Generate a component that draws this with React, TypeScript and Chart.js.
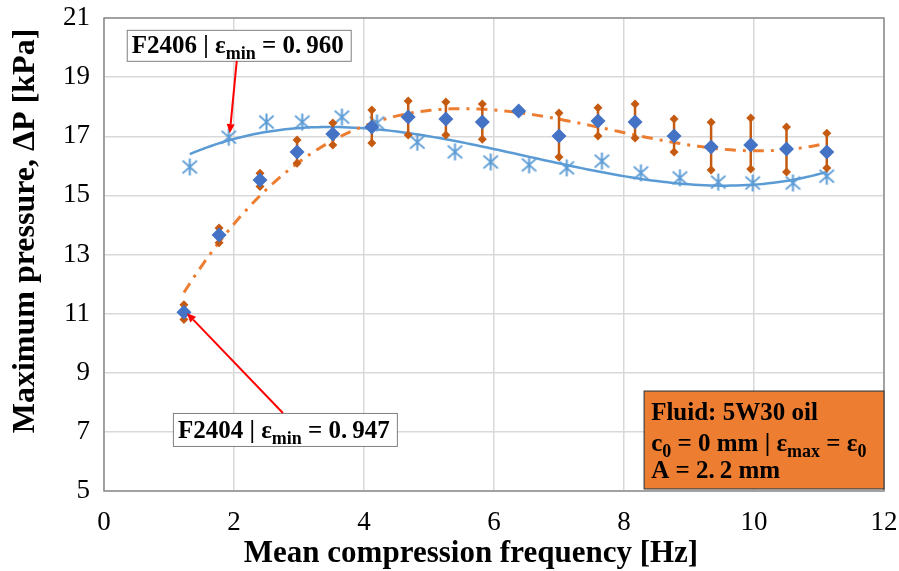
import React, { useEffect, useRef } from 'react';
import { Chart, registerables } from 'chart.js';

Chart.register(...registerables);

// ---------- data ----------
const f2404X = [1.23, 1.77, 2.4, 2.97, 3.52, 4.12, 4.68, 5.26, 5.82, 6.38, 7.0, 7.6, 8.17, 8.77, 9.34, 9.95, 10.5, 11.12];
const f2404Y = [11.05, 13.66, 15.52, 16.47, 17.08, 17.31, 17.65, 17.58, 17.48, 17.85, 17.01, 17.52, 17.48, 17.01, 16.64, 16.7, 16.57, 16.47];
const f2404Hi = [11.3, 13.9, 15.75, 16.87, 17.45, 17.89, 18.19, 18.16, 18.09, 17.85, 17.79, 17.96, 18.09, 17.58, 17.47, 17.62, 17.31, 17.1];
const f2404Lo = [10.8, 13.4, 15.3, 16.09, 16.7, 16.77, 17.04, 17.04, 16.9, 17.85, 16.3, 17.01, 16.94, 16.47, 15.86, 15.89, 15.79, 15.93];

const f2406X = [1.32, 1.92, 2.5, 3.05, 3.66, 4.2, 4.82, 5.4, 5.95, 6.54, 7.12, 7.66, 8.26, 8.86, 9.45, 9.98, 10.6, 11.12];
const f2406Y = [15.96, 16.97, 17.48, 17.48, 17.65, 17.45, 16.8, 16.47, 16.13, 16.03, 15.93, 16.16, 15.76, 15.59, 15.45, 15.42, 15.42, 15.65];

const xTickValues = [0, 2, 4, 6, 8, 10, 12];
const yTickValues = [5, 7, 9, 11, 13, 15, 17, 19, 21];

const xTitle = 'Mean compression frequency [Hz]';
const yTitle = 'Maximum pressure, \u0394P [kPa]';
const label2406 = [{ t: 'F2406 | \u03b5' }, { t: 'min', sub: true }, { t: ' = 0.\u2009960' }];
const label2404 = [{ t: 'F2404 | \u03b5' }, { t: 'min', sub: true }, { t: ' = 0.\u2009947' }];
const infoLines = [
  [{ t: 'Fluid: 5W30 oil' }],
  [{ t: 'c' }, { t: '0', sub: true }, { t: ' = 0 mm | \u03b5' }, { t: 'max', sub: true }, { t: ' = \u03b5' }, { t: '0', sub: true }],
  [{ t: 'A = 2.\u20092 mm' }],
];

const TREND_DEG_2404 = 3;
const TREND_DEG_2406 = 3;

// ---------- helpers ----------
function polyfit(xs: number[], ys: number[], deg: number): number[] {
  const n = deg + 1;
  const A: number[][] = Array.from({ length: n }, () => Array(n + 1).fill(0));
  for (let i = 0; i < xs.length; i++) {
    for (let r = 0; r < n; r++) {
      for (let c = 0; c < n; c++) A[r][c] += Math.pow(xs[i], r + c);
      A[r][n] += ys[i] * Math.pow(xs[i], r);
    }
  }
  for (let i = 0; i < n; i++) {
    let p = i;
    for (let k = i + 1; k < n; k++) if (Math.abs(A[k][i]) > Math.abs(A[p][i])) p = k;
    const tmp = A[i]; A[i] = A[p]; A[p] = tmp;
    for (let k = i + 1; k < n; k++) {
      const f = A[k][i] / A[i][i];
      for (let j = i; j <= n; j++) A[k][j] -= f * A[i][j];
    }
  }
  const coef = Array(n).fill(0);
  for (let i = n - 1; i >= 0; i--) {
    let s = A[i][n];
    for (let j = i + 1; j < n; j++) s -= A[i][j] * coef[j];
    coef[i] = s / A[i][i];
  }
  return coef;
}

function trendline(xs: number[], ys: number[], deg: number, steps = 120) {
  const c = polyfit(xs, ys, deg);
  const x0 = Math.min(...xs), x1 = Math.max(...xs);
  const pts: { x: number; y: number }[] = [];
  for (let i = 0; i <= steps; i++) {
    const x = x0 + ((x1 - x0) * i) / steps;
    let y = 0;
    for (let k = 0; k < c.length; k++) y += c[k] * Math.pow(x, k);
    pts.push({ x, y });
  }
  return pts;
}

function makeStar(size: number, color: string, lw: number) {
  const c = document.createElement('canvas');
  c.width = size; c.height = size;
  const ctx = c.getContext('2d')!;
  ctx.strokeStyle = color;
  ctx.lineWidth = lw;
  ctx.lineCap = 'butt';
  const m = size / 2, r = size / 2 - 1;
  ctx.beginPath();
  ctx.moveTo(m, m - r); ctx.lineTo(m, m + r);
  ctx.moveTo(m - r * 0.85, m - r * 0.75); ctx.lineTo(m + r * 0.85, m + r * 0.75);
  ctx.moveTo(m + r * 0.85, m - r * 0.75); ctx.lineTo(m - r * 0.85, m + r * 0.75);
  ctx.stroke();
  return c;
}

type Part = { t: string; sub?: boolean };
const FONT_FAMILY = "'Liberation Serif', 'Times New Roman', serif";

function richWidth(ctx: CanvasRenderingContext2D, parts: Part[], size: number) {
  let w = 0;
  for (const p of parts) {
    ctx.font = `bold ${p.sub ? Math.round(size * 0.7) : size}px ${FONT_FAMILY}`;
    w += ctx.measureText(p.t).width;
  }
  return w;
}

function drawRich(ctx: CanvasRenderingContext2D, parts: Part[], x: number, y: number, size: number) {
  let cx = x;
  ctx.textBaseline = 'alphabetic';
  ctx.textAlign = 'left';
  for (const p of parts) {
    ctx.font = `bold ${p.sub ? Math.round(size * 0.7) : size}px ${FONT_FAMILY}`;
    ctx.fillText(p.t, cx, p.sub ? y + size * 0.25 : y);
    cx += ctx.measureText(p.t).width;
  }
}

function arrow(ctx: CanvasRenderingContext2D, x0: number, y0: number, x1: number, y1: number) {
  ctx.save();
  ctx.strokeStyle = '#FF0000';
  ctx.fillStyle = '#FF0000';
  ctx.lineWidth = 2;
  const ang = Math.atan2(y1 - y0, x1 - x0);
  const hl = 9, hw = 4;
  const bx = x1 - Math.cos(ang) * hl, by = y1 - Math.sin(ang) * hl;
  ctx.beginPath();
  ctx.moveTo(x0, y0); ctx.lineTo(bx, by);
  ctx.stroke();
  ctx.beginPath();
  ctx.moveTo(x1, y1);
  ctx.lineTo(bx + Math.sin(ang) * hw, by - Math.cos(ang) * hw);
  ctx.lineTo(bx - Math.sin(ang) * hw, by + Math.cos(ang) * hw);
  ctx.closePath();
  ctx.fill();
  ctx.restore();
}

// ---------- plugins ----------
const errorBarPlugin = {
  id: 'errorBars',
  beforeDatasetDraw(chart: any, args: any) {
    if (args.index !== 0) return;
    const { ctx, scales } = chart;
    const xs = scales.x, ys = scales.y;
    ctx.save();
    ctx.strokeStyle = '#C55A11';
    ctx.fillStyle = '#C55A11';
    ctx.lineWidth = 2.5;
    for (let i = 0; i < f2404X.length; i++) {
      if (f2404Hi[i] === f2404Lo[i]) continue;
      const px = xs.getPixelForValue(f2404X[i]);
      const pt = ys.getPixelForValue(f2404Hi[i]);
      const pb = ys.getPixelForValue(f2404Lo[i]);
      ctx.beginPath();
      ctx.moveTo(px, pt); ctx.lineTo(px, pb);
      ctx.stroke();
      for (const py of [pt, pb]) {
        const r = 4.5;
        ctx.beginPath();
        ctx.moveTo(px, py - r); ctx.lineTo(px + r, py); ctx.lineTo(px, py + r); ctx.lineTo(px - r, py);
        ctx.closePath();
        ctx.fill();
      }
    }
    ctx.restore();
  },
};

const frameAndNotesPlugin = {
  id: 'frameAndNotes',
  beforeDatasetsDraw(chart: any) {
    const { ctx, chartArea: a } = chart;
    ctx.save();
    ctx.strokeStyle = '#8C8C8C';
    ctx.lineWidth = 1.5;
    ctx.strokeRect(a.left, a.top, a.right - a.left, a.bottom - a.top);
    ctx.restore();
  },
  afterDraw(chart: any) {
    const { ctx, scales } = chart;
    const xs = scales.x, ys = scales.y;
    ctx.save();

    // Axis titles
    ctx.fillStyle = '#000';
    ctx.font = `bold 31px ${FONT_FAMILY}`;
    ctx.textAlign = 'center';
    ctx.textBaseline = 'alphabetic';
    ctx.fillText(xTitle, 471, 562);
    ctx.save();
    ctx.translate(34, 231);
    ctx.rotate(-Math.PI / 2);
    ctx.font = `bold 32px ${FONT_FAMILY}`;
    ctx.fillText(yTitle, 0, 0);
    ctx.restore();

    // Box F2406
    const fs = 25;
    let bx = xs.getPixelForValue(0.35), by = ys.getPixelForValue(20.6);
    let w = richWidth(ctx, label2406, fs) + 12, h = 31;
    ctx.fillStyle = '#FFFFFF';
    ctx.fillRect(bx, by, w, h);
    ctx.strokeStyle = '#808080'; ctx.lineWidth = 1;
    ctx.strokeRect(bx + 0.5, by + 0.5, w, h);
    ctx.fillStyle = '#000';
    drawRich(ctx, label2406, bx + 5, by + 23, fs);
    const t1x = xs.getPixelForValue(f2406X[1]) + 1, t1y = ys.getPixelForValue(f2406Y[1]) - 4;
    arrow(ctx, bx + 110, by + h, t1x, t1y);

    // Box F2404
    bx = xs.getPixelForValue(1.06); by = ys.getPixelForValue(7.64);
    w = richWidth(ctx, label2404, fs) + 12; h = 33;
    ctx.fillStyle = '#FFFFFF';
    ctx.fillRect(bx, by, w, h);
    ctx.strokeStyle = '#808080';
    ctx.strokeRect(bx + 0.5, by + 0.5, w, h);
    ctx.fillStyle = '#000';
    drawRich(ctx, label2404, bx + 5, by + 25, fs);
    const t2x = xs.getPixelForValue(f2404X[0]) + 3, t2y = ys.getPixelForValue(f2404Y[0]) + 1;
    arrow(ctx, bx + 110, by, t2x, t2y);

    // Info box
    const ox = xs.getPixelForValue(8.31), oy = ys.getPixelForValue(8.38);
    const ox2 = xs.getPixelForValue(12), oy2 = ys.getPixelForValue(5.07);
    ctx.fillStyle = '#ED7D31';
    ctx.fillRect(ox, oy, ox2 - ox, oy2 - oy);
    ctx.strokeStyle = '#404040'; ctx.lineWidth = 1.2;
    ctx.strokeRect(ox, oy, ox2 - ox, oy2 - oy);
    ctx.fillStyle = '#000';
    const ifs = 25;
    const offs = [29, 60, 87];
    infoLines.forEach((ln, i) => drawRich(ctx, ln, ox + 7, oy + offs[i], ifs));
    ctx.restore();
  },
};

export default function App() {
  const ref = useRef<HTMLCanvasElement>(null);
  useEffect(() => {
    if (!ref.current) return;
    const star = makeStar(19, '#5B9BD5', 2);
    const tickFont = { family: FONT_FAMILY, size: 27 };
    const chart = new Chart(ref.current, {
      type: 'scatter',
      data: {
        datasets: [
          {
            label: 'F2404',
            data: f2404X.map((x, i) => ({ x, y: f2404Y[i] })),
            pointStyle: 'rectRot',
            pointRadius: 7.5,
            backgroundColor: '#4472C4',
            borderColor: '#4472C4',
            borderWidth: 0,
            showLine: false,
            order: 1,
          },
          {
            label: 'F2406',
            data: f2406X.map((x, i) => ({ x, y: f2406Y[i] })),
            pointStyle: star as any,
            pointRadius: 9,
            showLine: false,
            order: 2,
          },
          {
            label: 'F2404 trend',
            data: trendline(f2404X, f2404Y, TREND_DEG_2404),
            showLine: true,
            pointRadius: 0,
            borderColor: '#ED7D31',
            borderWidth: 3,
            borderDash: [11, 7, 3, 7],
            fill: false,
            order: 3,
          },
          {
            label: 'F2406 trend',
            data: trendline(f2406X, f2406Y, TREND_DEG_2406),
            showLine: true,
            pointRadius: 0,
            borderColor: '#5B9BD5',
            borderWidth: 2.5,
            fill: false,
            order: 4,
          },
        ],
      },
      options: {
        animation: false,
        responsive: false,
        layout: { padding: { left: 0, right: 15, top: 18, bottom: 0 } },
        plugins: { legend: { display: false }, tooltip: { enabled: false } },
        scales: {
          x: {
            type: 'linear',
            min: 0,
            max: 12,
            afterBuildTicks: (s: any) => { s.ticks = xTickValues.map((v) => ({ value: v })); },
            afterFit: (s: any) => { s.height = 80; s.paddingLeft = 0; s.paddingRight = 0; },
            ticks: { font: tickFont, color: '#000', padding: 16 },
            grid: { color: '#D9D9D9', lineWidth: 1.5, drawTicks: false },
            border: { display: false },
            title: { display: false },
          },
          y: {
            type: 'linear',
            min: 5,
            max: 21,
            afterBuildTicks: (s: any) => { s.ticks = yTickValues.map((v) => ({ value: v })); },
            afterFit: (s: any) => { s.width = 104; s.paddingTop = 0; s.paddingBottom = 0; },
            ticks: { font: tickFont, color: '#000', padding: 14 },
            grid: { color: '#D9D9D9', lineWidth: 1.5, drawTicks: false },
            border: { display: false },
            title: { display: false },
          },
        },
      },
      plugins: [errorBarPlugin, frameAndNotesPlugin],
    });
    return () => chart.destroy();
  }, []);
  return (
    <div style={{ position: 'fixed', left: 0, top: 0, width: 899, height: 571, background: '#fff' }}>
      <canvas ref={ref} width={899} height={571} />
    </div>
  );
}
